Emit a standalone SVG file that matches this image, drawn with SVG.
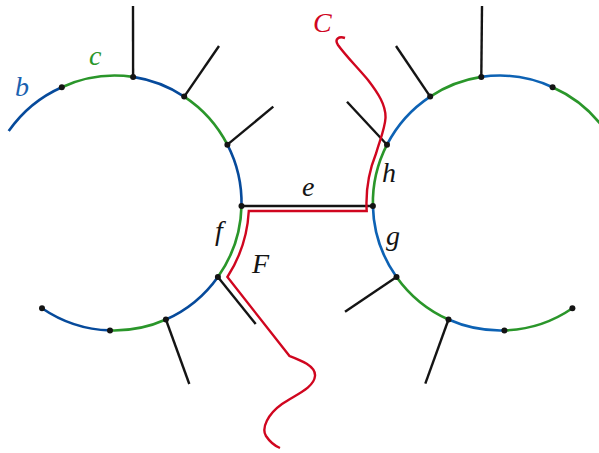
<svg xmlns="http://www.w3.org/2000/svg" width="599" height="453" viewBox="0 0 599 453">
<style>
.bl{fill:none;stroke:#064a9b;stroke-width:2.6}
.bl2{fill:none;stroke:#0d62b4;stroke-width:2.6}
.gr{fill:none;stroke:#2a962a;stroke-width:2.6}
.st{fill:none;stroke:#141414;stroke-width:2.4}
.red{fill:none;stroke:#d0061f;stroke-width:2.4;stroke-linejoin:miter}
.dot{fill:#141414}
text{font-family:"Liberation Serif","DejaVu Serif",serif;font-style:italic;font-size:28px}
</style>
<rect width="599" height="453" fill="#fff"/>
<g id="connectors">
<g id="edge-e"><line class="st" x1="241.5" y1="206" x2="372.9" y2="206"/></g>
<g id="stubs-left">
<line class="st" x1="133.1" y1="76.9" x2="133" y2="6"/>
<line class="st" x1="184.2" y1="96.6" x2="219" y2="46"/>
<line class="st" x1="227.4" y1="144.7" x2="273.3" y2="106.7"/>
<line class="st" x1="217.9" y1="276.9" x2="255.7" y2="324"/>
<line class="st" x1="165.9" y1="319.5" x2="189.3" y2="384"/>
</g>
<g id="stubs-right">
<line class="st" x1="481.3" y1="76.9" x2="482" y2="6"/>
<line class="st" x1="430.2" y1="96.6" x2="396" y2="46"/>
<line class="st" x1="387" y1="144.7" x2="347" y2="101.7"/>
<line class="st" x1="396.5" y1="276.9" x2="345" y2="311.7"/>
<line class="st" x1="448.5" y1="319.5" x2="425.3" y2="383.7"/>
</g>
</g>
<g id="circle-left">
<path class="bl" d="M8.7,131.1 A127.5,127.5 0 0 1 61.8,87.2"/>
<path class="gr" d="M61.8,87.2 A127.5,127.5 0 0 1 133.1,76.9"/>
<path class="bl" d="M133.1,76.9 A127.5,127.5 0 0 1 184.2,96.6"/>
<path class="gr" d="M184.2,96.6 A127.5,127.5 0 0 1 227.4,144.7"/>
<path class="bl" d="M227.4,144.7 A127.5,127.5 0 0 1 241.5,206.1"/>
<path class="gr" d="M241.5,206.1 A127.5,127.5 0 0 1 217.9,276.9"/>
<path class="bl" d="M217.9,276.9 A127.5,127.5 0 0 1 165.9,319.5"/>
<path class="gr" d="M165.9,319.5 A127.5,127.5 0 0 1 110,330.4"/>
<path class="bl" d="M110,330.4 A127.5,127.5 0 0 1 42,308.2"/>
<g class="dot">
<circle cx="61.8" cy="87.2" r="3"/><circle cx="133.1" cy="76.9" r="3"/><circle cx="184.2" cy="96.6" r="3"/>
<circle cx="227.4" cy="144.7" r="3"/><circle cx="241.5" cy="206.1" r="3"/><circle cx="217.9" cy="276.9" r="3"/>
<circle cx="165.9" cy="319.5" r="3"/><circle cx="110" cy="330.4" r="3"/><circle cx="42" cy="308.2" r="3"/>
</g>
</g>
<g id="circle-right">
<path class="gr" d="M605.7,131.1 A127.5,127.5 0 0 0 552.6,87.2"/>
<path class="bl2" d="M552.6,87.2 A127.5,127.5 0 0 0 481.3,76.9"/>
<path class="gr" d="M481.3,76.9 A127.5,127.5 0 0 0 430.2,96.6"/>
<path class="bl2" d="M430.2,96.6 A127.5,127.5 0 0 0 387,144.7"/>
<path class="gr" d="M387,144.7 A127.5,127.5 0 0 0 372.9,206.1"/>
<path class="bl2" d="M372.9,206.1 A127.5,127.5 0 0 0 396.5,276.9"/>
<path class="gr" d="M396.5,276.9 A127.5,127.5 0 0 0 448.5,319.5"/>
<path class="bl2" d="M448.5,319.5 A127.5,127.5 0 0 0 504.4,330.4"/>
<path class="gr" d="M504.4,330.4 A127.5,127.5 0 0 0 572.4,308.2"/>
<g class="dot">
<circle cx="552.6" cy="87.2" r="3"/><circle cx="481.3" cy="76.9" r="3"/><circle cx="430.2" cy="96.6" r="3"/>
<circle cx="387" cy="144.7" r="3"/><circle cx="372.9" cy="206.1" r="3"/><circle cx="396.5" cy="276.9" r="3"/>
<circle cx="448.5" cy="319.5" r="3"/><circle cx="504.4" cy="330.4" r="3"/><circle cx="572.4" cy="308.2" r="3"/>
</g>
</g>
<g id="curve-C">
<path class="red" d="M345,38 C339,36 334,39 338,45 C345,55 358,68 368,80 C378,93 386,105 385.5,118 C385,128 380,140 376.2,153 A134,134 0 0 0 366.7,211 L248.8,211 A135,135 0 0 1 227.4,277 L289.5,356 C300,360 316,366 315,376 C314,388 295,395 282,404 C268,414 261,428 266,436 C270,442 275,446 280,448"/>
</g>
<g id="labels">
<text x="15" y="96" fill="#1a62b0">b</text>
<text x="89" y="65" fill="#2a962a">c</text>
<text x="313" y="32" fill="#d0061f">C</text>
<text x="302" y="196" fill="#141414">e</text>
<text x="382" y="182" fill="#141414">h</text>
<text x="215" y="240" fill="#141414">f</text>
<text x="252" y="273" fill="#141414">F</text>
<text x="386" y="245" fill="#141414">g</text>
</g>
</svg>
